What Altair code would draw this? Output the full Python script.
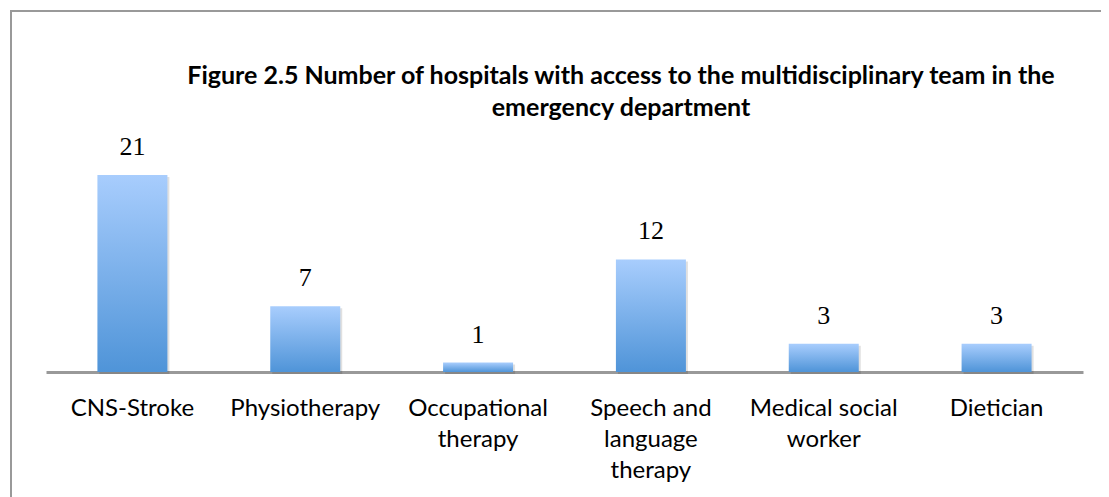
import altair as alt
import pandas as pd

categories = ["CNS-Stroke", "Physiotherapy", "Occupational\ntherapy",
              "Speech and\nlanguage\ntherapy", "Medical social\nworker", "Dietician"]
values = [21, 7, 1, 12, 3, 3]
title_lines = ["Figure 2.5 Number of hospitals with access to the multidisciplinary team in the",
               "emergency department"]

df = pd.DataFrame({"category": categories, "value": values})
one = pd.DataFrame({"a": [0]})

W, H = 1037, 197

grad = alt.Gradient(
    gradient="linear",
    stops=[alt.GradientStop(color="#a8cdfd", offset=0),
           alt.GradientStop(color="#4f94d8", offset=1)],
    x1=0, x2=0, y1=0, y2=1,
)

x = alt.X(
    "category:N", sort=categories,
    scale=alt.Scale(paddingInner=0.595, paddingOuter=0.2975),
    axis=alt.Axis(title=None, labelAngle=0, labelExpr="split(datum.label, '\\n')",
                  labelFont="Lato", labelFontSize=24, labelColor="#000",
                  labelPadding=24, labelLineHeight=31, ticks=False,
                  domainColor="#999999", domainWidth=3, grid=False),
)
y = alt.Y("value:Q", scale=alt.Scale(domain=[0, 21], nice=False), axis=None)

base = alt.Chart(df)
shadow = base.mark_bar(color="#000000", opacity=0.12, xOffset=2, yOffset=2).encode(x=x, y=y)
bars = base.mark_bar(color=grad).encode(x=x, y=y)
labels = base.mark_text(font="Liberation Serif", fontSize=26, dy=-20, baseline="alphabetic",
                        color="#000").encode(x=x, y=y, text="value:Q")

title = alt.Chart(one).mark_text(font="Lato", fontSize=25, fontWeight="bold", color="#000",
                                 baseline="alphabetic", lineHeight=32, align="center").encode(
    x=alt.value(575), y=alt.value(-91), text=alt.value(title_lines))

border_left = alt.Chart(one).mark_rule(color="#999999", strokeWidth=2).encode(
    x=alt.value(-35), y=alt.value(-165), y2=alt.value(330))
border_top = alt.Chart(one).mark_rule(color="#999999", strokeWidth=2).encode(
    x=alt.value(-36), x2=alt.value(1055), y=alt.value(-164))

chart = alt.layer(border_left, border_top, shadow, bars, labels, title).properties(
    width=W, height=H,
    background="white",
    autosize=alt.AutoSizeParams(type="none"),
    padding={"left": 38, "top": 167, "right": 18, "bottom": 125},
).configure_view(strokeWidth=0, stroke="transparent")

chart.save("out.html", embed_options={"renderer": "svg", "actions": False})
